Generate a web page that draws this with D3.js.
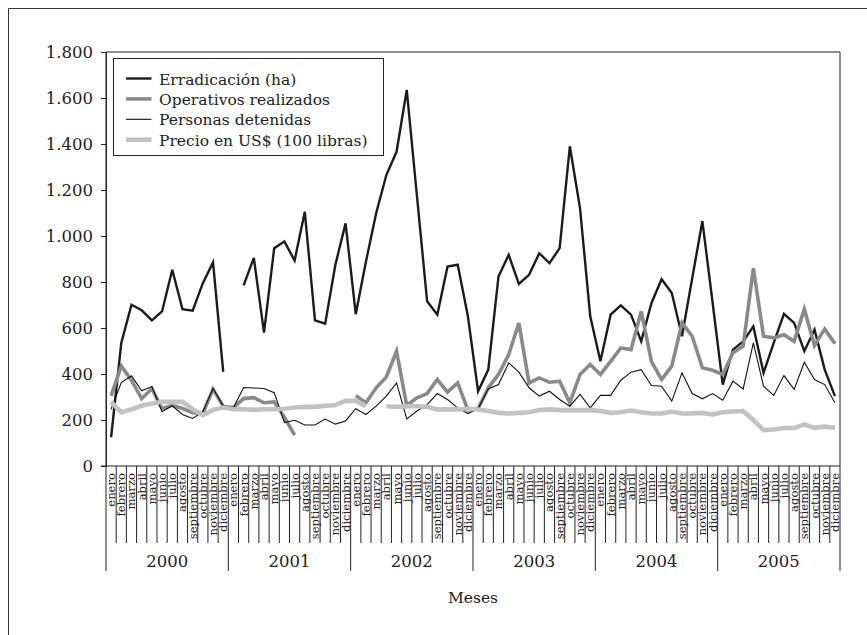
<!DOCTYPE html>
<html>
<head>
<meta charset="utf-8">
<script src="https://cdn.jsdelivr.net/npm/d3@7"></script>
<style>
  body { margin: 0; background: #fff; }
  svg { display: block; font-family: "DejaVu Serif", serif; }
</style>
</head>
<body>
<svg id="chart"></svg>
<script>
// Categories
const years = ["2000", "2001", "2002", "2003", "2004", "2005"];
const months = ["enero", "febrero", "marzo", "abril", "mayo", "junio", "julio",
  "agosto", "septiembre", "octubre", "noviembre", "diciembre"];

// Series (one value per month, Jan 2000 - Dec 2005; null = no data)
const erradicacion = [
  125, 535, 701, 677, 633, 672, 853, 682, 675, 795, 885, 409,
  null, 785, 905, 580, 947, 976, 893, 1105, 633, 619, 875, 1055,
  660, 889, 1099, 1265, 1366, 1635, 1175, 716, 658, 867, 875, 651,
  325, 419, 824, 918, 792, 831, 925, 882, 947, 1390, 1120, 651,
  455, 658, 698, 658, 542, 708, 812, 752, 564, 815, 1065, 712,
  354, 506, 542, 607, 405, 535, 662, 622, 499, 593, 419, 304
];
const operativos = [
  305, 435, 372, 293, 336, 250, 264, 250, 232, 228, 334, 259,
  254, 293, 297, 275, 279, 212, 134, null, null, null, null, null,
  306, 275, 340, 387, 499, 263, 296, 315, 376, 321, 361, 243,
  250, 340, 398, 484, 622, 361, 383, 364, 369, 275, 398, 441,
  398, 455, 513, 506, 672, 455, 376, 434, 622, 564, 427, 416,
  398, 492, 521, 860, 564, 557, 571, 542, 682, 524, 596, 532
];
const personas = [
  247, 363, 392, 327, 346, 236, 262, 224, 207, 236, 337, 262,
  254, 341, 339, 337, 319, 189, 199, 178, 178, 204, 182, 196,
  249, 224, 260, 304, 361, 205, 239, 267, 315, 289, 253, 228,
  249, 335, 354, 448, 408, 340, 304, 325, 289, 260, 311, 253,
  307, 307, 373, 408, 419, 350, 347, 282, 405, 315, 292, 315,
  286, 369, 335, 535, 347, 307, 393, 333, 451, 376, 354, 275
];
const precio = [
  279, 233, 247, 262, 272, 279, 279, 279, 247, 221, 244, 254,
  247, 247, 244, 247, 247, 249, 254, 257, 257, 262, 265, 283,
  283, 260, null, 260, 257, 260, 260, 257, 246, 246, 246, 249,
  246, 239, 231, 228, 231, 234, 243, 246, 243, 243, 243, 243,
  239, 231, 234, 241, 234, 228, 228, 237, 228, 228, 231, 224,
  234, 237, 239, 200, 156, 159, 165, 165, 181, 166, 171, 166
];
const yTicks = [0, 200, 400, 600, 800, 1000, 1200, 1400, 1600, 1800];

const series = [
  { name: "Erradicación (ha)", values: erradicacion, color: "#1b1b1b", width: 2.4 },
  { name: "Operativos realizados", values: operativos, color: "#8a8a8a", width: 3.6 },
  { name: "Personas detenidas", values: personas, color: "#111", width: 1.1 },
  { name: "Precio en US$ (100 libras)", values: precio, color: "#c2c2c2", width: 4.6 }
];

const W = 867, H = 635;
const margin = { left: 106, right: 27, top: 52, bottom: 168 };

const svg = d3.select("#chart").attr("width", W).attr("height", H);

// Outer frame (top and left edges visible)
svg.append("path")
  .attr("d", `M8.5,${H} V8.5 H${W}`)
  .attr("fill", "none").attr("stroke", "#333").attr("stroke-width", 1);

const idx = d3.range(years.length * months.length);
const x = d3.scaleBand()
  .domain(idx)
  .range([margin.left, W - margin.right])
  .padding(0);
const bw = x.bandwidth();

const y = d3.scaleLinear()
  .domain([0, 1800])
  .range([H - margin.bottom - 1, margin.top]);

const fmt = d3.formatLocale({ decimal: ",", thousands: ".", grouping: [3], currency: ["$", ""] }).format(",");

// Plot frame
const x0 = margin.left, x1 = W - margin.right;
svg.append("path")
  .attr("d", `M${x0},${y(0)} V${y(1800)} H${x1} V${y(0)}`)
  .attr("fill", "none").attr("stroke", "#222").attr("stroke-width", 1);

// Y axis
const yAxis = svg.append("g")
  .attr("transform", `translate(${x0},0)`)
  .call(d3.axisLeft(y).tickValues(yTicks).tickFormat(fmt).tickSize(5).tickPadding(8));
yAxis.select(".domain").attr("stroke", "#222");
yAxis.selectAll(".tick line").attr("stroke", "#222");
yAxis.selectAll("text")
  .attr("font-family", "DejaVu Serif, serif")
  .attr("font-size", 16.5)
  .attr("fill", "#222");

// X axis baseline
svg.append("line")
  .attr("x1", x0 - 5).attr("x2", x1)
  .attr("y1", y(0)).attr("y2", y(0))
  .attr("stroke", "#222");

// Month separators and year separators
const sepY1 = y(0), monthSepY2 = 543, yearSepY2 = 571;
svg.append("g").selectAll("line")
  .data(d3.range(idx.length + 1))
  .join("line")
  .attr("x1", d => d === idx.length ? x1 : x(d))
  .attr("x2", d => d === idx.length ? x1 : x(d))
  .attr("y1", sepY1)
  .attr("y2", d => d % 12 === 0 ? yearSepY2 : monthSepY2)
  .attr("stroke", "#222")
  .attr("stroke-width", 1);

// Month labels
svg.append("g").selectAll("text")
  .data(idx)
  .join("text")
  .attr("transform", d => `translate(${x(d) + bw / 2 + 4},${sepY1 + 7}) rotate(-90)`)
  .attr("text-anchor", "end")
  .attr("font-size", 11.6)
  .attr("fill", "#222")
  .text(d => months[d % 12]);

// Year labels
svg.append("g").selectAll("text")
  .data(years)
  .join("text")
  .attr("x", (d, i) => (x(i * 12) + (i === years.length - 1 ? x1 : x((i + 1) * 12))) / 2)
  .attr("y", 567)
  .attr("text-anchor", "middle")
  .attr("font-size", 16.5)
  .attr("fill", "#222")
  .text(d => d);

// Axis title
svg.append("text")
  .attr("x", (x0 + x1) / 2)
  .attr("y", 603)
  .attr("text-anchor", "middle")
  .attr("font-size", 15.5)
  .attr("fill", "#222")
  .text("Meses");

// Lines
const line = d3.line()
  .defined(d => d.v != null)
  .x(d => x(d.i) + bw / 2)
  .y(d => y(d.v));

svg.append("g").selectAll("path")
  .data(series)
  .join("path")
  .attr("d", s => line(s.values.map((v, i) => ({ i, v }))))
  .attr("fill", "none")
  .attr("stroke", s => s.color)
  .attr("stroke-width", s => s.width)
  .attr("stroke-linejoin", "miter");

// Legend
const legend = svg.append("g").attr("transform", "translate(113.5,58.5)");
legend.append("rect")
  .attr("width", 270).attr("height", 97)
  .attr("fill", "#fff").attr("stroke", "#222");
const item = legend.selectAll("g")
  .data(series)
  .join("g")
  .attr("transform", (d, i) => `translate(0,${20 + i * 20.4})`);
item.append("line")
  .attr("x1", 12.5).attr("x2", 38)
  .attr("stroke", d => d.color)
  .attr("stroke-width", d => d.width);
item.append("text")
  .attr("x", 45.5).attr("y", 6)
  .attr("font-size", 15.5)
  .attr("fill", "#222")
  .text(d => d.name);
</script>
</body>
</html>
